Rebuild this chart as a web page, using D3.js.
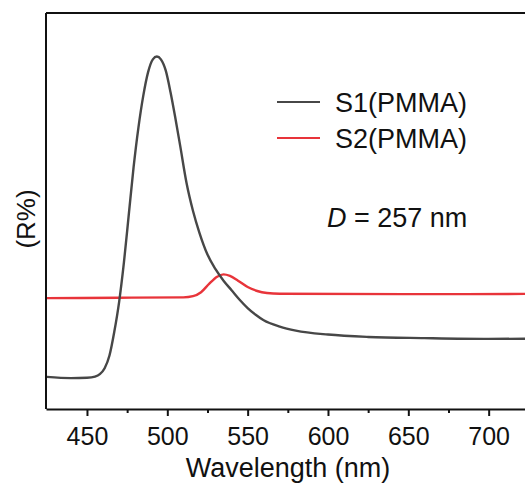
<!DOCTYPE html>
<html lang="en">
<head>
    <meta charset="utf-8">
    <title>Reflectance spectra</title>
    <script src="https://d3js.org/d3.v7.min.js"></script>
    <style>
        body { margin: 0; background: #fff; }
        text { font-family: "Liberation Sans", Arial, sans-serif; fill: #111; }
        .curve { fill: none; stroke-width: 2.4px; }
    </style>
</head>
<body>
<script type="text/javascript">

    var w = 525;
    var h = 485;

    // data (wavelength in nm, reflectance in arbitrary units)
    var s1Wave = [425, 440, 450, 455, 458, 461, 464, 467, 470, 473, 476, 479, 482, 485, 488, 491,
        493.5, 496, 499, 502, 505, 508, 512, 516, 520, 525, 530, 535, 540, 545, 550, 555, 560,
        570, 580, 600, 625, 660, 700, 750];
    var s1Val = [8.1, 7.8, 7.9, 8.2, 8.8, 10.3, 13.5, 19.5, 27, 37, 49, 61, 71, 79, 85, 88.3,
        89, 88.3, 85.5, 80, 73.5, 66.5, 57, 50, 44.5, 39, 35.3, 32.4, 30, 27.6, 25.5, 23.8, 22.4,
        20.8, 19.8, 18.8, 18.2, 17.9, 17.7, 17.8];
    var s2Wave = [425, 470, 510, 516, 521, 526, 531, 535, 539, 544, 550, 556, 562, 570, 650, 750];
    var s2Val = [28.0, 28.1, 28.2, 28.5, 29.5, 31.6, 33.4, 34.0, 33.6, 32.4, 30.8, 29.8, 29.3, 29.1, 29.0, 29.1];
    var seriesNames = ["S1(PMMA)", "S2(PMMA)"];
    var seriesColors = ["#474747", "#e8343a"];
    var majorTicks = [450, 500, 550, 600, 650, 700];
    var minorTicks = [475, 525, 575, 625, 675, 725];

    var mLeft = 46, mTop = 13, mBottom = 409;

    var svg = d3.select("body")
            .append("svg")
            .attr("width", w)
            .attr("height", h);

    var x = d3.scaleLinear().domain([424.5, 750]).range([mLeft, 569]);
    var y = d3.scaleLinear().domain([0, 100]).range([mBottom, mTop]);

    var line = d3.line()
            .x(function (d) { return x(d[0]); })
            .y(function (d) { return y(d[1]); })
            .curve(d3.curveMonotoneX);

    var series = [d3.zip(s1Wave, s1Val), d3.zip(s2Wave, s2Val)];

    svg.append("clipPath").attr("id", "plot")
        .append("rect").attr("x", mLeft).attr("y", mTop).attr("width", 600).attr("height", mBottom - mTop);

    // red first so black sits on top where they cross
    [1, 0].forEach(function (i) {
        svg.append("path")
            .attr("class", "curve")
            .attr("clip-path", "url(#plot)")
            .attr("stroke", seriesColors[i])
            .attr("d", line(series[i]));
    });

    // frame: top and left
    svg.append("line").attr("x1", mLeft).attr("x2", w).attr("y1", mTop).attr("y2", mTop)
        .attr("stroke", "#111").attr("stroke-width", 2);
    svg.append("line").attr("x1", mLeft).attr("x2", mLeft).attr("y1", mTop).attr("y2", mBottom)
        .attr("stroke", "#111").attr("stroke-width", 2);

    // bottom axis with major and minor ticks
    var xAxis = d3.axisBottom(x).tickValues(majorTicks).tickSize(7).tickPadding(11).tickSizeOuter(0);
    var gx = svg.append("g").attr("transform", "translate(0," + mBottom + ")").call(xAxis);
    gx.select(".domain").attr("stroke", "#111").attr("stroke-width", 2);
    gx.selectAll(".tick line").attr("stroke", "#111").attr("stroke-width", 2);
    gx.selectAll(".tick text").style("font-size", "25px")
        .style("font-family", "Liberation Sans, Arial, sans-serif").attr("fill", "#111");

    svg.append("g").attr("transform", "translate(0," + mBottom + ")")
        .call(d3.axisBottom(x).tickValues(minorTicks).tickSize(4).tickFormat(""))
        .call(function (g) {
            g.select(".domain").remove();
            g.selectAll(".tick line").attr("stroke", "#111").attr("stroke-width", 2);
        });

    // axis titles
    svg.append("text")
        .attr("x", 288).attr("y", 477)
        .attr("text-anchor", "middle")
        .style("font-size", "27px")
        .text("Wavelength (nm)");

    svg.append("text")
        .attr("transform", "translate(35,219) rotate(-90)")
        .attr("text-anchor", "middle")
        .style("font-size", "26px")
        .text("(R%)");

    // legend
    seriesNames.forEach(function (name, i) {
        var ly = 102 + i * 36;
        svg.append("line")
            .attr("x1", 277).attr("x2", 320).attr("y1", ly).attr("y2", ly)
            .attr("stroke", seriesColors[i]).attr("stroke-width", 2);
        svg.append("text")
            .attr("x", 335).attr("y", ly + 10)
            .style("font-size", "27px")
            .text(name);
    });

    // annotation
    var note = svg.append("text").attr("x", 327).attr("y", 227).style("font-size", "27px");
    note.append("tspan").style("font-style", "italic").text("D");
    note.append("tspan").text(" = 257 nm");

</script>
</body>
</html>
